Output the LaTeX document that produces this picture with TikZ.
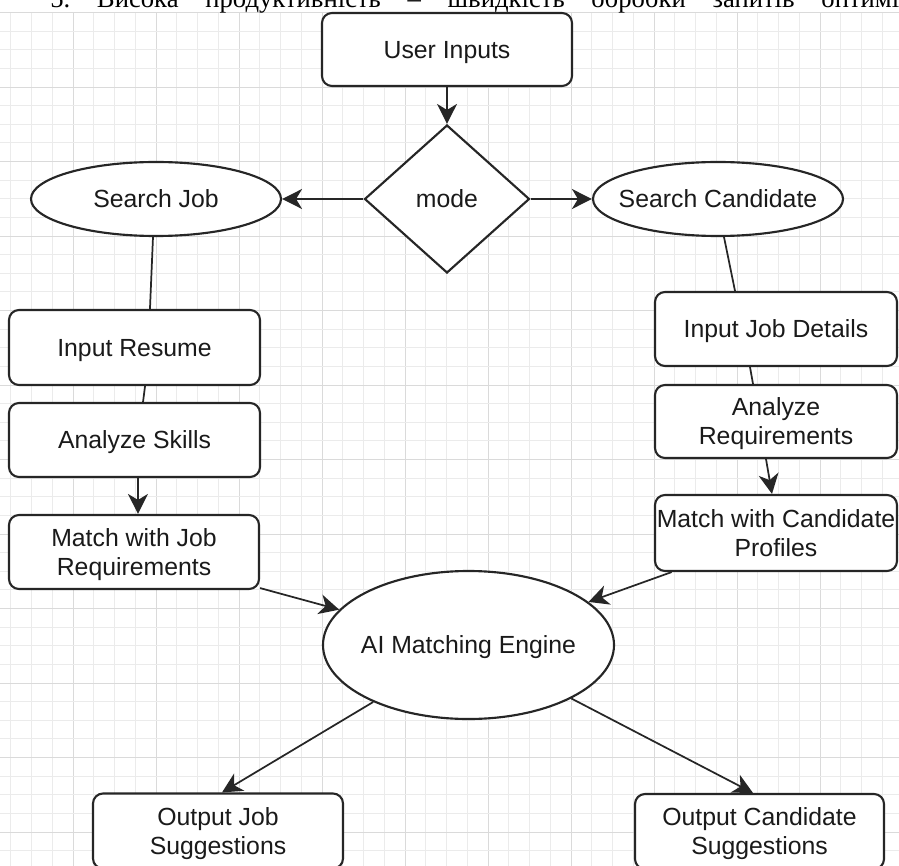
\documentclass[tikz,border=0pt]{standalone}
\usepackage{fontspec}
\setmainfont{Liberation Sans}
\newfontfamily\headserif{Liberation Serif}
\usetikzlibrary{shapes.geometric,arrows.meta}

\definecolor{gridminor}{HTML}{EBEBEB}
\definecolor{gridmajor}{HTML}{DADADA}
\definecolor{ink}{HTML}{262626}
\definecolor{labelink}{HTML}{1A1A1A}

% centred text of zero width, so that ovals keep their given size
\newcommand{\ctr}[1]{\makebox[0pt][c]{#1}}

\begin{document}
\begin{tikzpicture}[x=0.75pt,y=-0.75pt,
  every node/.style={font=\fontsize{18.6}{21.75}\selectfont, text=labelink},
  box/.style={draw=ink, line width=1.6pt, rounded corners=7.5pt, fill=white,
    inner sep=0pt, align=center, text depth=0pt},
  oval/.style={ellipse, draw=ink, line width=1.6pt, fill=white, inner sep=0pt,
    text depth=0pt},
  choice/.style={diamond, draw=ink, line width=1.6pt, fill=white, inner sep=0pt,
    minimum width=123.75pt, minimum height=111pt},
  link/.style={draw=ink, line width=1.3pt},
  flow/.style={link, -{Stealth[length=15pt,width=15pt,inset=4.5pt]}},
]
\useasboundingbox (0,0) rectangle (899,866);
\clip (0,0) rectangle (899,866);

% background grid
\foreach \i in {0,...,43}{
  \pgfmathtruncatemacro\m{mod(\i,4)}
  \ifnum\m=3 \def\gc{gridmajor}\else\def\gc{gridminor}\fi
  \draw[\gc, line width=0.7pt] ({10.75+20.75*\i},12.5) -- ({10.75+20.75*\i},866);
}
\foreach \j in {0,...,46}{
  \pgfmathtruncatemacro\m{mod(\j,4)}
  \ifnum\m=0 \def\gc{gridmajor}\else\def\gc{gridminor}\fi
  \draw[\gc, line width=0.7pt] (0,{12.5+18.625*\j}) -- (899,{12.5+18.625*\j});
}

% heading line of the page above the chart
\node[anchor=base west, inner sep=0pt, text=black,
  font=\headserif\fontsize{20}{24}\selectfont] (head) at (50,7.5)
  {\hbox to 636.75pt{5.\hfill Висока\hfill продуктивність\hfill –\hfill швидкість\hfill обробки\hfill запитів\hfill оптимі}};

% nodes
\node[box, minimum width=187.5pt, minimum height=54.75pt] (user) at (447,49.5) {User Inputs};
\node[choice] (mode) at (447,199) {mode};
\node[oval, minimum width=187.5pt, minimum height=55.5pt] (sjob) at (156,199) {\ctr{Search Job}};
\node[oval, minimum width=187.5pt, minimum height=55.5pt] (scand) at (718,199) {\ctr{Search Candidate}};

\node[box, minimum width=188.25pt, minimum height=56.25pt] (resume) at (134.5,347.5) {Input Resume};
\node[box, minimum width=188.25pt, minimum height=55.5pt] (skills) at (134.5,440) {Analyze Skills};
\node[box, minimum width=187.5pt, minimum height=55.5pt] (mjob) at (134,552) {Match with Job\\Requirements};

\node[box, minimum width=181.5pt, minimum height=55.5pt] (jobdet) at (776,329) {Input Job Details};
\node[box, minimum width=181.5pt, minimum height=54.75pt] (req) at (776,421.5) {Analyze\\Requirements};
\node[box, minimum width=181.5pt, minimum height=57pt] (mcand) at (776,533) {Match with Candidate\\Profiles};

\node[oval, minimum width=218.25pt, minimum height=111pt] (engine) at (468.5,645) {\ctr{AI Matching Engine}};

\node[box, minimum width=187.5pt, minimum height=56.25pt] (outjob) at (218,831) {Output Job\\Suggestions};
\node[box, minimum width=186.75pt, minimum height=56.25pt] (outcand) at (759.5,831.5) {Output Candidate\\Suggestions};

% connectors
\draw[flow] (user) -- (mode);
\draw[flow] (mode) -- (sjob);
\draw[flow] (mode) -- (scand);

\draw[link] ([xshift=-2.25pt]sjob.south) -- ([xshift=11.6pt]resume.north);
\draw[link] ([xshift=7.9pt]resume.south) -- ([xshift=6.4pt]skills.north);
\draw[flow] ([xshift=2.6pt]skills.south) -- ([xshift=3pt]mjob.north);
\draw[flow] ([yshift=1.5pt]mjob.south east) -- (engine);

\draw[link] ([xshift=4.5pt]scand.south) -- ([xshift=-30.75pt]jobdet.north);
\draw[link] ([xshift=-19.5pt]jobdet.south) -- ([xshift=-17.25pt]req.north);
\draw[flow] ([xshift=-7.5pt]req.south) -- ([xshift=-3pt]mcand.north);
\draw[flow] ([xshift=13.3pt]mcand.south west) -- (engine);

\draw[flow] (engine) -- ([xshift=3pt]outjob.north);
\draw[flow] (engine) -- ([xshift=-4.9pt]outcand.north);
\end{tikzpicture}
\end{document}
